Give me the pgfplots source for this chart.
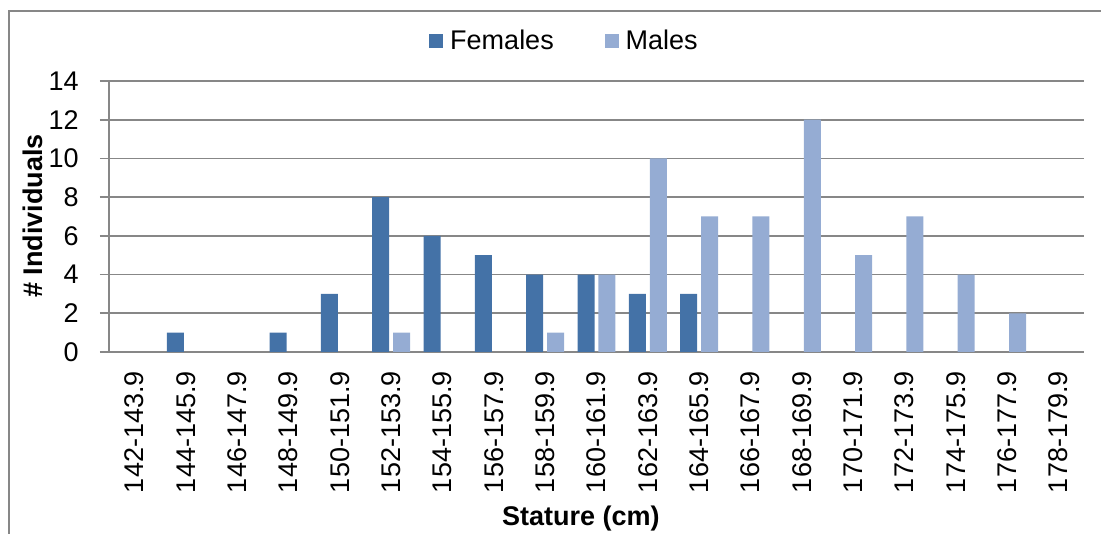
\documentclass[border=0pt]{standalone}
\usepackage{pgfplots}
\pgfplotsset{compat=1.18}
\usepackage{fontspec}
\setmainfont{Liberation Sans}
\definecolor{fem}{HTML}{4472A7}
\definecolor{mal}{HTML}{95ACD3}
\definecolor{gridc}{HTML}{878787}
\newcommand{\fs}{\fontsize{13.5bp}{16bp}\selectfont}
\begin{document}
\begin{tikzpicture}
\useasboundingbox (0,0) rectangle (550.5bp,267bp);
\draw[gridc, line width=0.8bp] (4.5bp,0) -- (4.5bp,261.5bp) -- (551bp,261.5bp);
\begin{axis}[
  at={(54.5bp,91bp)}, anchor=south west,
  scale only axis, width=487.5bp, height=135.5bp,
  ybar, bar width=8.5bp,
  xmin=-0.5, xmax=18.5, ymin=0, ymax=14,
  ytick={0,2,...,14},
  xtick={0,...,18},
  xticklabels={142-143.9,144-145.9,146-147.9,148-149.9,150-151.9,152-153.9,154-155.9,156-157.9,158-159.9,160-161.9,162-163.9,164-165.9,166-167.9,168-169.9,170-171.9,172-173.9,174-175.9,176-177.9,178-179.9},
  axis lines*=left,
  axis line style={gridc, line width=0.8bp},
  ymajorgrids, grid style={gridc, line width=0.8bp},
  tick align=outside, major tick length=4.5bp,
  ytick style={gridc, line width=0.8bp},
  xtick style={draw=none},
  /pgf/number format/assume math mode=true,
  tick label style={font=\fs, text=black},
  yticklabel style={inner sep=0pt, xshift=-10.5bp},
  xticklabel style={rotate=90, anchor=east, inner sep=0pt},
  xticklabel shift=5bp,
  xlabel={\textbf{Stature (cm)}},
  ylabel={\textbf{\# Individuals}},
  label style={font=\fs},
  xlabel style={at={(rel axis cs:0.484,-0.616)}, anchor=center},
  ylabel style={at={(rel axis cs:-0.078,0.502)}, anchor=center, rotate=0},
  legend columns=2,
  legend style={at={(rel axis cs:0.4682,1.1476)}, anchor=center, draw=none, fill=none, font=\fs,
    /tikz/every even column/.append style={column sep=23.5bp}},
]
\addplot[fill=fem, draw=none, legend image code/.code={\fill[fem] (0bp,-3.5bp) rectangle (7bp,3.5bp); \path (8.5bp,0);}]
coordinates {(0,0)(1,1)(2,0)(3,1)(4,3)(5,8)(6,6)(7,5)(8,4)(9,4)(10,3)(11,3)(12,0)(13,0)(14,0)(15,0)(16,0)(17,0)(18,0)};
\addplot[fill=mal, draw=none, legend image code/.code={\fill[mal] (0bp,-3.5bp) rectangle (7bp,3.5bp); \path (8.5bp,0);}]
coordinates {(0,0)(1,0)(2,0)(3,0)(4,0)(5,1)(6,0)(7,0)(8,1)(9,4)(10,10)(11,7)(12,7)(13,12)(14,5)(15,7)(16,4)(17,2)(18,0)};
\legend{Females,Males}
\end{axis}
\end{tikzpicture}
\end{document}
